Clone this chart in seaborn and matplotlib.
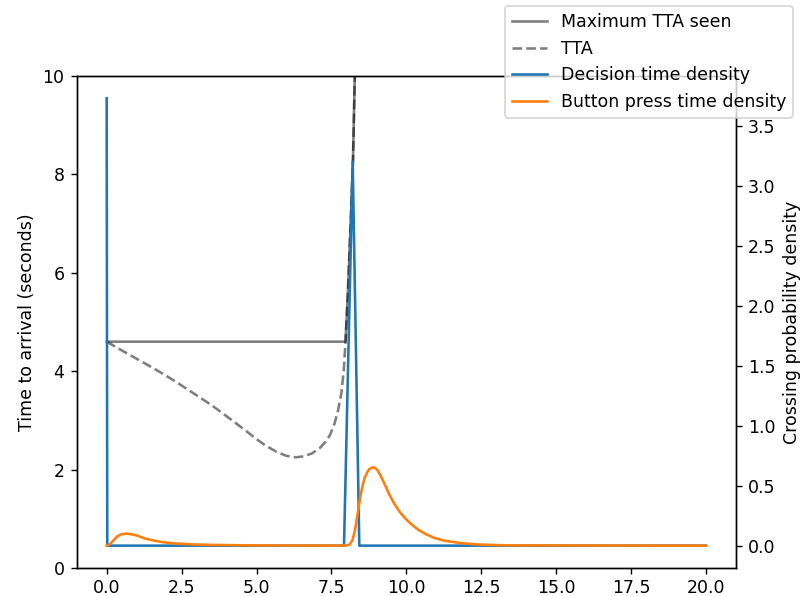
import numpy as np
import pandas as pd
import matplotlib
matplotlib.use("Agg")
import matplotlib.pyplot as plt
import seaborn as sns

# Time to arrival of the approaching vehicle (s)
tta_t = [0.0, 0.6, 1.3, 1.9, 2.4, 3.0, 3.5, 4.1, 4.6, 5.0, 5.3, 5.7, 6.0,
         6.3, 6.6, 6.85, 7.1, 7.3, 7.45, 7.6, 7.72, 7.83, 7.91, 7.97,
         8.05, 8.16, 8.22, 8.28, 8.33]
tta_v = [4.60, 4.39, 4.15, 3.94, 3.75, 3.51, 3.31, 3.04, 2.81, 2.62, 2.49,
         2.35, 2.28, 2.25, 2.27, 2.33, 2.43, 2.56, 2.70, 2.93, 3.20, 3.55,
         4.00, 4.60, 5.60, 7.30, 8.30, 10.00, 11.50]

# Largest time to arrival observed so far
max_tta_t = [0.0, 7.97, 8.05, 8.16, 8.22, 8.28, 8.33]
max_tta_v = [4.60, 4.60, 5.60, 7.30, 8.30, 10.00, 11.50]

# Decision time density
dec_t = [0.0, 0.02, 7.92, 8.21, 8.43, 20.0]
dec_v = [3.73, 0.0, 0.0, 3.20, 0.0, 0.0]

# Button press time density
btn_t = [0.0, 0.14, 0.25, 0.36, 0.5, 0.63, 0.8, 1.0, 1.3, 1.6, 1.85, 2.1,
         2.4, 2.9, 3.5, 4.5, 6.0, 7.5, 8.0, 8.11, 8.2, 8.28, 8.36, 8.44,
         8.52, 8.61, 8.7, 8.77, 8.88, 8.97, 9.05, 9.15, 9.27, 9.42, 9.6,
         9.77, 9.94, 10.15, 10.38, 10.65, 10.93, 11.3, 11.82, 12.3, 12.9,
         13.5, 20.0]
btn_v = [0.0, 0.020, 0.050, 0.078, 0.095, 0.100, 0.096, 0.085, 0.058,
         0.041, 0.030, 0.022, 0.016, 0.010, 0.006, 0.003, 0.001, 0.0005,
         0.001, 0.010, 0.045, 0.120, 0.240, 0.370, 0.480, 0.565, 0.615,
         0.640, 0.654, 0.647, 0.625, 0.580, 0.515, 0.432, 0.348, 0.285,
         0.233, 0.182, 0.136, 0.096, 0.065, 0.040, 0.021, 0.011, 0.005,
         0.002, 0.0]

fig = plt.figure(figsize=(802 / 125, 596 / 125), dpi=125)
ax = fig.add_axes([76.7 / 802, 28 / 596, 659.3 / 802, 492 / 596])
ax2 = ax.twinx()

sns.lineplot(x=max_tta_t, y=max_tta_v, ax=ax, color="k", alpha=0.5,
             lw=1.5, sort=False, estimator=None, label="Maximum TTA seen")
sns.lineplot(x=tta_t, y=tta_v, ax=ax, color="k", alpha=0.5, lw=1.5,
             linestyle="--", sort=False, estimator=None, label="TTA")
sns.lineplot(x=dec_t, y=dec_v, ax=ax2, color="#1f77b4", lw=1.5,
             sort=False, estimator=None, label="Decision time density")
sns.lineplot(x=btn_t, y=btn_v, ax=ax2, color="#ff7f0e", lw=1.5,
             sort=False, estimator=None, label="Button press time density")

ax.set_ylim(0, 10)
ax.set_xlim(-1.0, 21.0)
ax.set_ylabel("Time to arrival (seconds)")
ax2.set_ylabel("Crossing probability density")
ax.set_xlabel("")
ax.set_xticks(np.arange(0, 20.1, 2.5))
ax2.set_yticks(np.arange(0, 3.51, 0.5))
ax.tick_params(axis="x", pad=3)

h1, l1 = ax.get_legend_handles_labels()
h2, l2 = ax2.get_legend_handles_labels()
ax.get_legend().remove()
ax2.get_legend().remove()
fig.legend(h1 + h2, l1 + l2, loc="upper left",
           bbox_to_anchor=(505 / 802, 1 - 6 / 596),
           bbox_transform=fig.transFigure, borderaxespad=0)

fig.savefig("out.png", dpi=125)
